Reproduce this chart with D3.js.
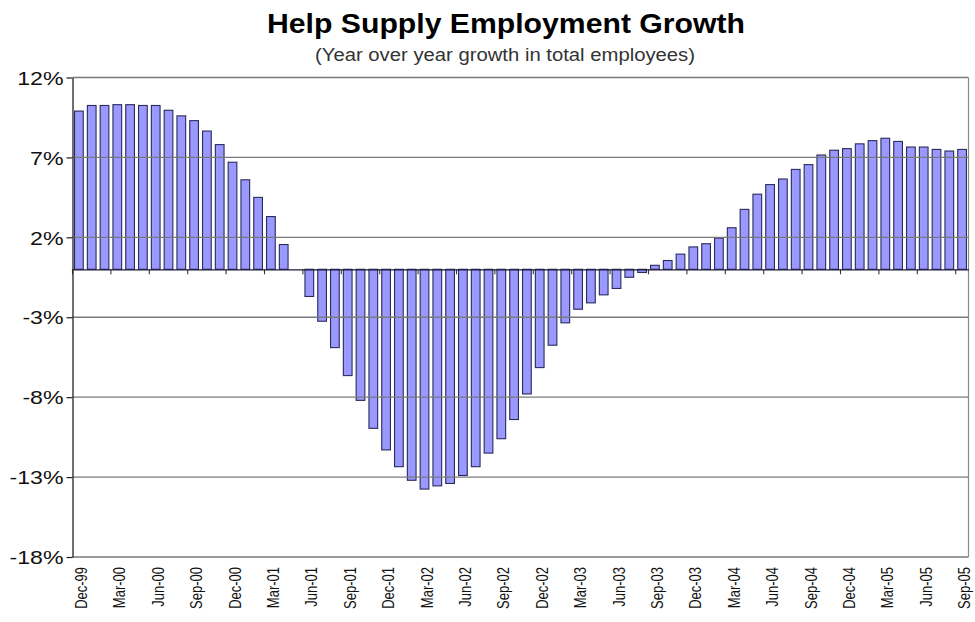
<!DOCTYPE html>
<html>
<head>
<meta charset="utf-8">
<script src="https://cdn.jsdelivr.net/npm/d3@7/dist/d3.min.js"></script>
<style>
  html, body { margin: 0; padding: 0; background: #fff; }
  svg { display: block; font-family: "Liberation Sans", Arial, sans-serif; }
</style>
</head>
<body>
<svg id="chart" width="975" height="622"></svg>
<script>
// Monthly categories, Dec-99 through Sep-05
const months = [
  "Dec-99","Jan-00","Feb-00","Mar-00","Apr-00","May-00","Jun-00","Jul-00","Aug-00","Sep-00","Oct-00","Nov-00",
  "Dec-00","Jan-01","Feb-01","Mar-01","Apr-01","May-01","Jun-01","Jul-01","Aug-01","Sep-01","Oct-01","Nov-01",
  "Dec-01","Jan-02","Feb-02","Mar-02","Apr-02","May-02","Jun-02","Jul-02","Aug-02","Sep-02","Oct-02","Nov-02",
  "Dec-02","Jan-03","Feb-03","Mar-03","Apr-03","May-03","Jun-03","Jul-03","Aug-03","Sep-03","Oct-03","Nov-03",
  "Dec-03","Jan-04","Feb-04","Mar-04","Apr-04","May-04","Jun-04","Jul-04","Aug-04","Sep-04","Oct-04","Nov-04",
  "Dec-04","Jan-05","Feb-05","Mar-05","Apr-05","May-05","Jun-05","Jul-05","Aug-05","Sep-05"
];

// Year-over-year growth in help supply employees (%)
const growth = [
  9.9, 10.25, 10.25, 10.3, 10.3, 10.25, 10.25, 9.95, 9.6, 9.3, 8.65, 7.8,
  6.7, 5.6, 4.5, 3.3, 1.55, 0.0, -1.7, -3.25, -4.9, -6.65, -8.2, -9.95,
  -11.3, -12.35, -13.2, -13.75, -13.55, -13.4, -12.9, -12.35, -11.5, -10.6, -9.4, -7.8,
  -6.15, -4.75, -3.35, -2.5, -2.1, -1.6, -1.2, -0.5, -0.2, 0.25, 0.55, 0.95,
  1.4, 1.6, 1.95, 2.6, 3.75, 4.7, 5.3, 5.65, 6.25, 6.55, 7.15, 7.45,
  7.55, 7.85, 8.05, 8.2, 8.0, 7.65, 7.65, 7.5, 7.4, 7.5
];

// Axis ticks
const yTicks = [12, 7, 2, -3, -8, -13, -18];
const xTickLabels = months.filter((d, i) => i % 3 === 0);

const titleText = "Help Supply Employment Growth";
const subtitleText = "(Year over year growth in total employees)";

const svg = d3.select("#chart");
const plotLeft = 72.5, plotRight = 968.5, plotTop = 77.5, plotBottom = 557;

const x = d3.scaleBand()
  .domain(months)
  .range([plotLeft, plotRight])
  .paddingInner(0.32)
  .paddingOuter(0.16);

const y = d3.scaleLinear()
  .domain([-18, 12])
  .range([plotBottom, plotTop]);

// Title and subtitle
svg.append("text")
  .attr("x", 506).attr("y", 32.5)
  .attr("text-anchor", "middle")
  .attr("font-size", 27)
  .attr("font-weight", "bold")
  .attr("textLength", 478)
  .attr("lengthAdjust", "spacingAndGlyphs")
  .attr("fill", "#000")
  .text(titleText);

svg.append("text")
  .attr("x", 505).attr("y", 61)
  .attr("text-anchor", "middle")
  .attr("font-size", 17.5)
  .attr("textLength", 380)
  .attr("lengthAdjust", "spacingAndGlyphs")
  .attr("fill", "#333")
  .text(subtitleText);

// Bars
svg.append("g")
  .selectAll("rect")
  .data(growth)
  .join("rect")
  .attr("x", (d, i) => x(months[i]))
  .attr("width", x.bandwidth())
  .attr("y", d => y(Math.max(0, d)))
  .attr("height", d => Math.abs(y(d) - y(0)))
  .attr("fill", "#9999ff")
  .attr("stroke", "#2a2a5c")
  .attr("stroke-width", 1.1);

// Horizontal gridlines (over the bars)
svg.append("g")
  .selectAll("line")
  .data(yTicks)
  .join("line")
  .attr("x1", plotLeft).attr("x2", plotRight)
  .attr("y1", d => y(d)).attr("y2", d => y(d))
  .attr("stroke", "#7a7a7a")
  .attr("stroke-width", 1.3);

// Right border of the plot area
svg.append("line")
  .attr("x1", plotRight).attr("x2", plotRight)
  .attr("y1", plotTop).attr("y2", plotBottom)
  .attr("stroke", "#8a8a8a")
  .attr("stroke-width", 1.2);

// Category axis along the zero line, ticks at every third category boundary
const zeroAxis = svg.append("g")
  .attr("transform", `translate(0,${y(0)})`)
  .call(d3.axisBottom(x).tickValues(xTickLabels).tickSize(5).tickSizeOuter(0).tickFormat(""));
zeroAxis.select(".domain").attr("stroke", "#1a1a3a").attr("stroke-width", 1.3);
zeroAxis.selectAll(".tick line")
  .attr("x1", -x.step() / 2).attr("x2", -x.step() / 2)
  .attr("stroke", "#333").attr("stroke-width", 1.1);

// Category labels below the plot
const labelAxis = svg.append("g")
  .attr("transform", `translate(0,${plotBottom})`)
  .call(d3.axisBottom(x).tickValues(xTickLabels).tickSize(0).tickSizeOuter(0));
labelAxis.select(".domain").remove();
labelAxis.selectAll(".tick text")
  .attr("font-family", "'Liberation Sans', Arial, sans-serif")
  .attr("font-size", 13)
  .attr("fill", "#111")
  .attr("text-anchor", "end")
  .attr("transform", "scale(1.3,1) rotate(-90)")
  .attr("x", -10)
  .attr("y", 0)
  .attr("dy", "0.48em");

// Value axis
const yStretch = 1.25;
const yAxis = svg.append("g")
  .attr("transform", `translate(${plotLeft},0)`)
  .call(d3.axisLeft(y).tickValues(yTicks).tickSize(6).tickSizeOuter(0).tickFormat(d => d + "%"));
yAxis.select(".domain").attr("stroke", "#222").attr("stroke-width", 1.3);
yAxis.selectAll(".tick line").attr("stroke", "#222").attr("stroke-width", 1.2);
yAxis.selectAll(".tick text")
  .attr("font-family", "'Liberation Sans', Arial, sans-serif")
  .attr("font-size", 18.5)
  .attr("fill", "#111")
  .attr("transform", `scale(${yStretch},1)`)
  .attr("x", -9 / yStretch)
  .attr("dy", "0.36em");
</script>
</body>
</html>
